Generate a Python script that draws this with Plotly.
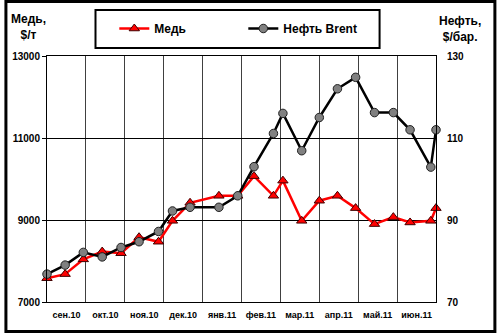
import datetime as dt
import calendar
import plotly.graph_objects as go

# Observation dates and prices
dates = ["2010-09-01", "2010-09-15", "2010-09-29", "2010-10-14", "2010-10-29",
         "2010-11-12", "2010-11-27", "2010-12-08", "2010-12-22", "2011-01-14",
         "2011-01-29", "2011-02-10", "2011-02-24", "2011-03-03", "2011-03-18",
         "2011-04-01", "2011-04-15", "2011-04-29", "2011-05-14", "2011-05-29",
         "2011-06-11", "2011-06-27", "2011-07-01"]
copper = [7580, 7680, 8040, 8230, 8190, 8580, 8470, 8980, 9420, 9590, 9590, 10070,
          9590, 9960, 8980, 9470, 9590, 9290, 8900, 9070, 8940, 8980, 9290]
brent = [76.8, 79.0, 82.1, 81.0, 83.3, 84.7, 87.2, 92.2, 93.1, 93.1, 95.9, 103.0,
         111.1, 116.0, 106.9, 115.0, 122.0, 124.8, 116.2, 116.2, 112.0, 102.9, 112.0]
month_labels = ["сен.10", "окт.10", "ноя.10", "дек.10", "янв.11",
                "фев.11", "мар.11", "апр.11", "май.11", "июн.11"]

FONT = "Arial, 'Liberation Sans', sans-serif"
START = dt.date(2010, 9, 1)


def month_pos(s):
    """Position on a month-based axis where every month has equal width."""
    d = dt.date.fromisoformat(s)
    idx = (d.year - START.year) * 12 + d.month - START.month
    days = calendar.monthrange(d.year, d.month)[1]
    return idx + (d.day - 1) / days


x = [month_pos(s) for s in dates]
n_months = len(month_labels)

W, H = 500, 335
L, R, T, B = 43, 64, 56, 33
PW, PH = W - L - R, H - T - B


def px(xp):
    return (xp - L) / PW


def py(yp):
    return (H - B - yp) / PH


fig = go.Figure()
fig.add_trace(go.Scatter(
    x=x, y=copper, name="Медь", mode="lines+markers",
    line=dict(color="#ff0000", width=2.5),
    marker=dict(symbol="triangle-up", size=9, color="#ff0000",
                line=dict(color="#400000", width=1)),
    cliponaxis=False, yaxis="y"))
fig.add_trace(go.Scatter(
    x=x, y=brent, name="Нефть Brent", mode="lines+markers",
    line=dict(color="#000000", width=2.5),
    marker=dict(symbol="circle", size=8.5, color="#808080",
                line=dict(color="#202020", width=1)),
    cliponaxis=False, yaxis="y2"))

fig.update_layout(
    width=W, height=H,
    margin=dict(l=L, r=R, t=T, b=B),
    paper_bgcolor="white", plot_bgcolor="white",
    font=dict(family=FONT, color="black"),
    showlegend=True,
    legend=dict(orientation="h", x=px(111), y=py(14), xanchor="left", yanchor="top",
                bgcolor="rgba(0,0,0,0)", borderwidth=0,
                font=dict(size=12, family=FONT, weight="bold"),
                entrywidth=84, entrywidthmode="pixels", itemwidth=30),
    xaxis=dict(range=[0, n_months], showgrid=False, zeroline=False,
               tickvals=[i + 0.5 for i in range(n_months)], ticktext=month_labels,
               ticks="", tickfont=dict(size=9, family=FONT, weight="bold"),
               ticklabelstandoff=4,
               showline=True, linecolor="black", linewidth=1, mirror=True,
               minor=dict(tickvals=list(range(1, n_months)), showgrid=True,
                          gridcolor="#404040", gridwidth=1, ticks="")),
    yaxis=dict(range=[7000, 13000], dtick=2000, tick0=7000, tickformat="d",
               showgrid=True, gridcolor="black", gridwidth=1.3, zeroline=False,
               ticks="outside", ticklen=4, tickcolor="black",
               tickfont=dict(size=10, family=FONT, weight="bold"),
               showline=True, linecolor="black", linewidth=1, mirror=True),
    yaxis2=dict(range=[70, 130], dtick=20, tick0=70, tickformat="d",
                overlaying="y", side="right",
                showgrid=False, zeroline=False, ticks="",
                ticklabelstandoff=10,
                tickfont=dict(size=10, family=FONT, weight="bold"),
                showline=False),
)

# Outer frame and legend box
fig.add_shape(type="rect", xref="paper", yref="paper",
              x0=px(1.5), x1=px(495.5), y0=py(1.5), y1=py(331.5),
              line=dict(color="black", width=3), layer="below")
fig.add_shape(type="rect", xref="paper", yref="paper",
              x0=px(92), x1=px(379), y0=py(10), y1=py(48),
              line=dict(color="black", width=2), fillcolor="white", layer="below")

# Axis titles
fig.add_annotation(text="<b>Медь,<br>$/т</b>", xref="paper", yref="paper",
                   x=px(24), y=py(27), xanchor="center", yanchor="middle",
                   showarrow=False, align="center",
                   font=dict(size=12, family=FONT))
fig.add_annotation(text="<b>Нефть,<br>$/бар.</b>", xref="paper", yref="paper",
                   x=px(460), y=py(29), xanchor="center", yanchor="middle",
                   showarrow=False, align="center",
                   font=dict(size=12, family=FONT))

fig.write_html("out.html")
